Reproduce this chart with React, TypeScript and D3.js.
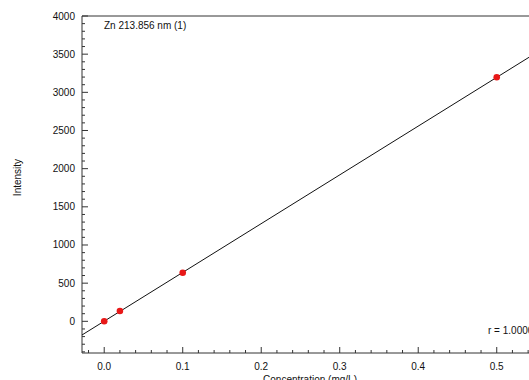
import React from "react";
import * as d3 from "d3";

const concentrations = [0.0, 0.02, 0.1, 0.5];
const intensities = [0, 135, 637, 3197];
const yTickValues = [0, 500, 1000, 1500, 2000, 2500, 3000, 3500, 4000];
const xTickValues = [0.0, 0.1, 0.2, 0.3, 0.4, 0.5];
const titleText = "Zn 213.856 nm (1)";
const rText = "r = 1.0000";
const xLabel = "Concentration (mg/L)";
const yLabel = "Intensity";

const W = 529;
const H = 380;
const FONT = "'Liberation Sans', Arial, sans-serif";

export default function App() {
  const x = d3.scaleLinear().domain([-0.0283, 0.5411]).range([82, 529]);
  const y = d3.scaleLinear().domain([-415, 4000]).range([353, 16]);

  // least squares fit
  const mx = d3.mean(concentrations) as number;
  const my = d3.mean(intensities) as number;
  let sxy = 0, sxx = 0;
  concentrations.forEach((c, i) => {
    sxy += (c - mx) * (intensities[i] - my);
    sxx += (c - mx) * (c - mx);
  });
  const slope = sxy / sxx;
  const intercept = my - slope * mx;
  const [x0, x1] = x.domain();
  const lineGen = d3.line<number>().x((d) => x(d)).y((d) => y(slope * d + intercept));

  const yMinor = d3.range(-400, 4001, 100).filter((v) => v % 500 !== 0);
  const xMinor = d3.range(-0.02, 0.5411, 0.02).map((v) => Math.round(v * 100) / 100).filter((v) => Math.round(v * 100) % 10 !== 0);

  const axisColor = "#333";

  return (
    <svg width={W} height={H} style={{ position: "absolute", left: 0, top: 0, background: "#fff" }} fontFamily={FONT}>
      <defs>
        <clipPath id="plot">
          <rect x={82} y={16} width={W - 82} height={353 - 16} />
        </clipPath>
      </defs>
      {/* frame */}
      <line x1={82} x2={W} y1={16} y2={16} stroke={axisColor} strokeWidth={1} />
      <line x1={82} x2={82} y1={16} y2={353} stroke={axisColor} strokeWidth={1} />
      <line x1={82} x2={W} y1={353} y2={353} stroke={axisColor} strokeWidth={1} />

      {/* y ticks */}
      {yTickValues.map((v) => (
        <g key={"y" + v}>
          <line x1={82} x2={88} y1={y(v)} y2={y(v)} stroke={axisColor} />
          <text x={75} y={y(v)} dy="0.35em" textAnchor="end" fontSize={10} fill="#111">
            {v}
          </text>
        </g>
      ))}
      {yMinor.map((v) => (
        <line key={"ym" + v} x1={82} x2={85} y1={y(v)} y2={y(v)} stroke={axisColor} />
      ))}

      {/* x ticks */}
      {xTickValues.map((v) => (
        <g key={"x" + v}>
          <line x1={x(v)} x2={x(v)} y1={353} y2={347} stroke={axisColor} />
          <text x={x(v)} y={369.5} textAnchor="middle" fontSize={10} fill="#111">
            {d3.format(".1f")(v)}
          </text>
        </g>
      ))}
      {xMinor.map((v) => (
        <line key={"xm" + v} x1={x(v)} x2={x(v)} y1={353} y2={350} stroke={axisColor} />
      ))}

      {/* labels */}
      <text x={310} y={383} textAnchor="middle" fontSize={10} fill="#111">
        {xLabel}
      </text>
      <text transform="translate(20.5,177.5) rotate(-90)" textAnchor="middle" fontSize={10} fill="#111">
        {yLabel}
      </text>
      <text x={104} y={29} fontSize={10} fill="#111">
        {titleText}
      </text>
      <text x={488} y={334} fontSize={10} fill="#111">
        {rText}
      </text>

      {/* regression line */}
      <g clipPath="url(#plot)">
        <path d={lineGen([x0, x1]) || ""} fill="none" stroke="#111" strokeWidth={1} />
      </g>

      {/* points */}
      {concentrations.map((c, i) => (
        <circle key={"p" + i} cx={x(c)} cy={y(intensities[i])} r={3.3} fill="#e81818" />
      ))}
    </svg>
  );
}
